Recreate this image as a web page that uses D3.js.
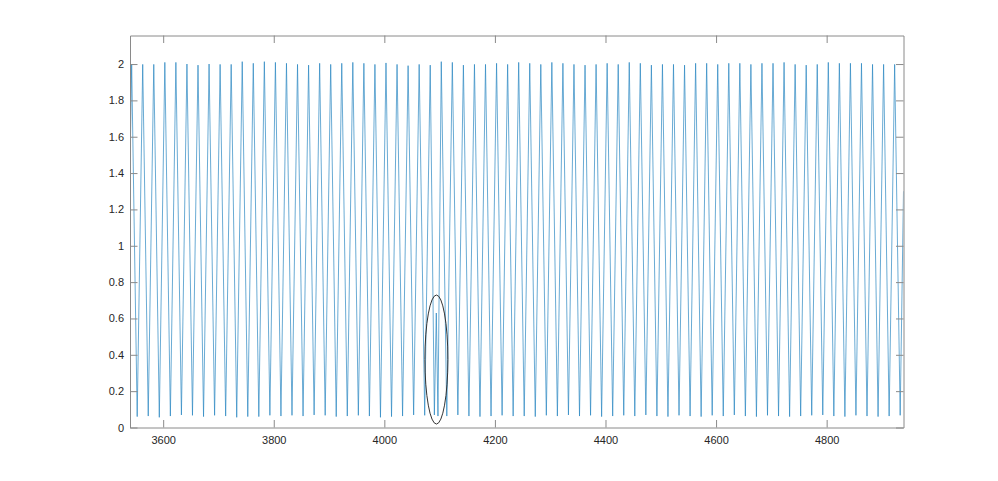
<!DOCTYPE html>
<html><head><meta charset="utf-8">
<script src="https://cdn.jsdelivr.net/npm/d3@7"></script>
<style>body{margin:0;background:#fff} text{font-family:Arial,"Liberation Sans",Helvetica,sans-serif}</style>
</head><body><svg id="c" width="998" height="481"></svg>
<script>
const xTickValues = [3600,3800,4000,4200,4400,4600,4800];
const yTickValues = [0,0.2,0.4,0.6,0.8,1,1.2,1.4,1.6,1.8,2];
const xLimits = [3540, 4939];
const yLimits = [0, 2.157];

const peakTimes = [3543,3563,3583,3603,3623,3643,3663,3683,3703,3723,
3743,3763,3783,3803,3823,3843,3863,3883,3903,3923,
3943,3963,3983,4003,4023,4043,4063,4083,4103,4123,
4143,4163,4183,4203,4223,4243,4263,4283,4303,4323,
4343,4363,4383,4403,4423,4443,4463,4483,4503,4523,
4543,4563,4583,4603,4623,4643,4663,4683,4703,4723,
4743,4763,4783,4803,4823,4843,4863,4883,4903,4923];
const peakValues = [2.000,1.998,1.998,2.009,2.009,2.000,1.994,2.000,1.998,1.998,
2.013,2.004,2.013,2.009,2.004,1.998,1.994,2.004,1.998,2.004,
2.009,2.004,1.998,2.006,1.998,1.991,1.998,1.994,2.013,2.009,
1.994,1.998,1.998,2.004,1.998,2.009,2.004,1.998,2.009,2.004,
1.998,1.994,1.998,2.004,1.998,2.009,2.004,1.994,1.998,1.998,
1.994,2.004,2.004,1.998,2.004,2.004,1.998,2.004,2.004,2.009,
1.998,1.994,1.998,2.009,2.004,2.004,2.004,1.998,1.998,1.998];

const troughTimes = [3553,3573,3593,3613,3633,3653,3673,3693,3713,3733,
3753,3773,3793,3813,3833,3853,3873,3893,3913,3933,
3953,3973,3993,4013,4033,4053,4073,4090.5,4097,4113,
4133,4153,4173,4193,4213,4233,4253,4273,4293,4313,
4333,4353,4373,4393,4413,4433,4453,4473,4493,4513,
4533,4553,4573,4593,4613,4633,4653,4673,4693,4713,
4733,4753,4773,4793,4813,4833,4853,4873,4893,4913,
4933];
const troughValues = [0.060,0.063,0.056,0.063,0.069,0.067,0.060,0.067,0.063,0.056,
0.060,0.060,0.067,0.063,0.067,0.063,0.069,0.067,0.060,0.063,
0.067,0.063,0.056,0.060,0.063,0.069,0.067,0.069,0.063,0.063,
0.069,0.063,0.060,0.063,0.067,0.063,0.063,0.060,0.067,0.063,
0.069,0.063,0.067,0.060,0.063,0.067,0.063,0.069,0.063,0.060,
0.067,0.063,0.060,0.067,0.063,0.069,0.063,0.060,0.067,0.063,
0.060,0.063,0.067,0.069,0.063,0.060,0.067,0.063,0.060,0.063,
0.067];

const spikeTimes = [4094];
const spikeValues = [0.63];
const edgeTimes = [3540, 4939];
const edgeValues = [1.42, 1.30];

// annotation ellipse: center (x, y) and radii (x, y) in data units
const ellipseCenter = [4094.2, 0.374];
const ellipseRadii = [20.8, 0.355];

const svg = d3.select("#c");
svg.append("rect").attr("width",998).attr("height",481).attr("fill","#fff");
const L=130, R=903.5, T=35.5, B=427.5;
const x = d3.scaleLinear().domain(xLimits).range([L,R]);
const y = d3.scaleLinear().domain(yLimits).range([B,T]);

const pts = [];
peakTimes.forEach((t,i)=>pts.push([t,peakValues[i]]));
troughTimes.forEach((t,i)=>pts.push([t,troughValues[i]]));
spikeTimes.forEach((t,i)=>pts.push([t,spikeValues[i]]));
edgeTimes.forEach((t,i)=>pts.push([t,edgeValues[i]]));
pts.sort((a,b)=>a[0]-b[0]);

svg.append("clipPath").attr("id","clip").append("rect")
  .attr("x",L).attr("y",T).attr("width",R-L).attr("height",B-T);

const tickLen = 7.5;
const axisColor = "#8a8a8a";
const labelColor = "#262626";
const g = svg.append("g");

g.append("path").datum(pts)
  .attr("clip-path","url(#clip)")
  .attr("fill","none").attr("stroke","#2a86c2").attr("stroke-width",0.7)
  .attr("d", d3.line().x(d=>x(d[0])).y(d=>y(d[1])));

g.append("ellipse")
  .attr("cx", x(ellipseCenter[0])).attr("cy", y(ellipseCenter[1]))
  .attr("rx", x(ellipseCenter[0]+ellipseRadii[0]) - x(ellipseCenter[0]))
  .attr("ry", y(0) - y(ellipseRadii[1]))
  .attr("fill","none").attr("stroke","#333").attr("stroke-width",1);

const xb = g.append("g").attr("transform",`translate(0,${B})`)
  .call(d3.axisBottom(x).tickValues(xTickValues).tickSizeInner(-tickLen).tickSizeOuter(0).tickPadding(6).tickFormat(d3.format("d")));
const xt = g.append("g").attr("transform",`translate(0,${T})`)
  .call(d3.axisTop(x).tickValues(xTickValues).tickSizeInner(-tickLen).tickSizeOuter(0).tickFormat(""));
const yl = g.append("g").attr("transform",`translate(${L},0)`)
  .call(d3.axisLeft(y).tickValues(yTickValues).tickSizeInner(-tickLen).tickSizeOuter(0).tickPadding(6).tickFormat(d=>d3.format("~g")(d)));
const yr = g.append("g").attr("transform",`translate(${R},0)`)
  .call(d3.axisRight(y).tickValues(yTickValues).tickSizeInner(-tickLen).tickSizeOuter(0).tickFormat(""));

[xb,xt,yl,yr].forEach(a=>{
  a.select(".domain").attr("stroke",axisColor);
  a.selectAll(".tick line").attr("stroke",axisColor);
  a.selectAll("text").attr("fill",labelColor).style("font-size","11px")
   .style("font-family","Arial, 'Liberation Sans', Helvetica, sans-serif");
});
xb.selectAll("text").attr("dy","0.95em");
</script>
</body></html>
